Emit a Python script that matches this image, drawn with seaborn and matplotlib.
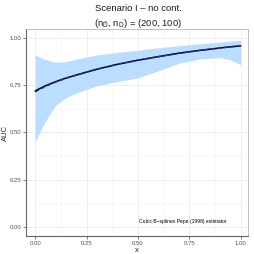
import numpy as np
import pandas as pd
import matplotlib
matplotlib.use("Agg")
import matplotlib.pyplot as plt
import seaborn as sns

# values
x = [0.0, 0.05, 0.1, 0.15, 0.2, 0.3, 0.4, 0.5, 0.6, 0.7, 0.8, 0.9, 0.95, 1.0]
auc_est = [0.721, 0.748, 0.770, 0.789, 0.805, 0.836, 0.862, 0.884, 0.903, 0.921, 0.936, 0.949, 0.955, 0.960]
auc_true = [0.716, 0.745, 0.768, 0.788, 0.805, 0.836, 0.862, 0.884, 0.903, 0.921, 0.936, 0.949, 0.955, 0.961]
band_low = [0.450, 0.560, 0.644, 0.685, 0.710, 0.748, 0.770, 0.790, 0.828, 0.868, 0.890, 0.897, 0.886, 0.860]
band_high = [0.912, 0.888, 0.872, 0.876, 0.890, 0.912, 0.925, 0.937, 0.950, 0.961, 0.971, 0.981, 0.986, 0.990]

df = pd.DataFrame({"x": x, "est": auc_est, "true": auc_true,
                   "lo": band_low, "hi": band_high})

sns.set_theme(style="white")
plt.rcParams["font.family"] = ["Liberation Sans", "DejaVu Sans"]
plt.rcParams["mathtext.fontset"] = "custom"
plt.rcParams["mathtext.rm"] = "Liberation Sans"

fig = plt.figure(figsize=(2.54, 2.54), dpi=100)
ax = fig.add_axes([0.102, 0.071, 0.874, 0.815])

ax.fill_between(df["x"], df["lo"], df["hi"], color="#BBDDFF", lw=0, zorder=2)
sns.lineplot(data=df, x="x", y="est", color="black", lw=1.1, ax=ax, zorder=3)
sns.lineplot(data=df, x="x", y="true", color="#1F2FA8", lw=1.1, ax=ax,
             zorder=4, linestyle=(0, (2.6, 1.8)))

ax.set_xlim(-0.045, 1.035)
ax.set_ylim(-0.05, 1.05)
ticks = [0, 0.25, 0.5, 0.75, 1.0]
ax.set_xticks(ticks)
ax.set_yticks(ticks)
ax.set_xticklabels(["0.00", "0.25", "0.50", "0.75", "1.00"])
ax.set_yticklabels(["0.00", "0.25", "0.50", "0.75", "1.00"])
ax.set_xticks([0.125, 0.375, 0.625, 0.875], minor=True)
ax.set_yticks([0.125, 0.375, 0.625, 0.875], minor=True)
ax.grid(which="major", color="#EBEBEB", lw=0.6, zorder=0)
ax.grid(which="minor", color="#F4F4F4", lw=0.4, zorder=0)
ax.set_axisbelow(True)
ax.tick_params(axis="both", which="major", labelsize=4.3, colors="#4D4D4D",
               length=2, width=0.5, pad=1.5, direction="out",
               bottom=True, left=True)
ax.tick_params(which="minor", length=0)

for s in ["left", "bottom"]:
    ax.spines[s].set_color("#666666")
    ax.spines[s].set_linewidth(0.8)
for s in ["top", "right"]:
    ax.spines[s].set_color("#B3B3B3")
    ax.spines[s].set_linewidth(0.6)

ax.set_xlabel("x", fontsize=5.5, labelpad=0.5)
ax.set_ylabel("AUC", fontsize=5.5, labelpad=0.5)

ax.text(0.72, 0.025, "Cubic B\u2212splines Pepe (1998) estimator",
        fontsize=3.6, ha="center", va="center", color="black")

fig.text(0.545, 0.967, "Scenario I \u2013 no cont.", ha="center", va="center",
         fontsize=6.8, color="#1A1A1A")
fig.text(0.545, 0.908,
         r"($\mathregular{n_{\bar{D}}}$, $\mathregular{n_D}$) = (200, 100)",
         ha="center", va="center", fontsize=6.8, color="#1A1A1A")

fig.savefig("out.png", dpi=100)
